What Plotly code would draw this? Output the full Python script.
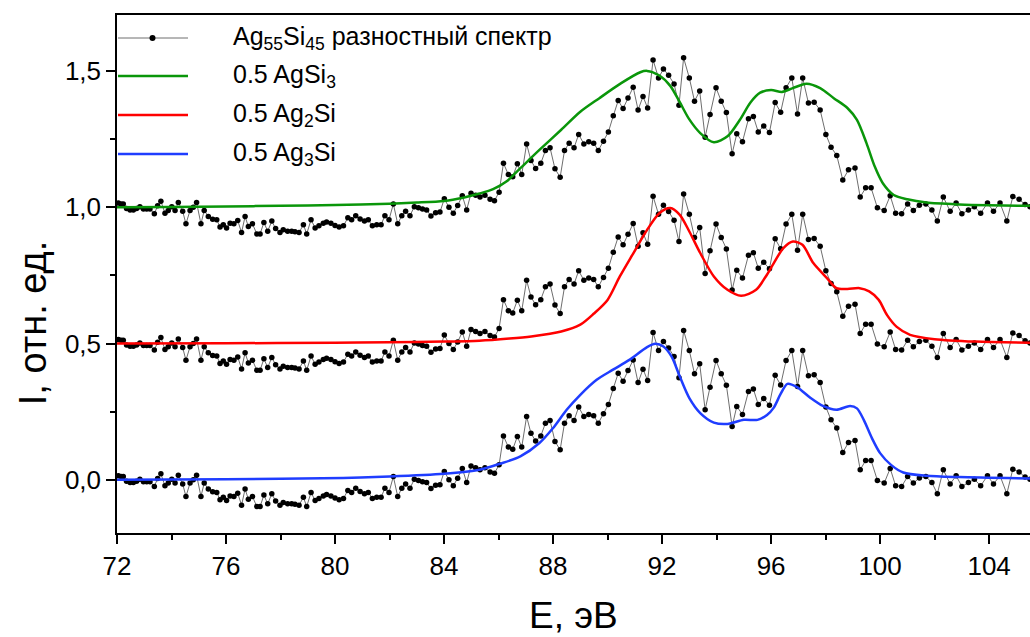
import plotly.graph_objects as go

# Experimental difference spectrum Ag55Si45 (eV, rel. units)
energy_exp = [
    72.05, 72.15, 72.23, 72.35, 72.48, 72.60, 72.72, 72.84, 72.97, 73.09,
    73.21, 73.37, 73.49, 73.61, 73.76, 73.88, 74.01, 74.13, 74.25, 74.41,
    74.53, 74.68, 74.80, 74.92, 75.08, 75.20, 75.35, 75.51, 75.66, 75.78,
    75.90, 76.02, 76.15, 76.29, 76.43, 76.57, 76.70, 76.82, 76.97, 77.13,
    77.25, 77.39, 77.53, 77.68, 77.82, 77.98, 78.10, 78.26, 78.41, 78.53,
    78.68, 78.84, 78.96, 79.12, 79.27, 79.41, 79.57, 79.69, 79.85, 80.00,
    80.15, 80.31, 80.47, 80.61, 80.76, 80.92, 81.08, 81.22, 81.37, 81.53,
    81.69, 81.83, 81.98, 82.14, 82.30, 82.45, 82.59, 82.75, 82.91, 83.06,
    83.21, 83.36, 83.52, 83.69, 83.85, 84.01, 84.18, 84.34, 84.50, 84.67,
    84.83, 84.99, 85.16, 85.32, 85.50, 85.69, 85.85, 86.02, 86.18, 86.36,
    86.52, 86.69, 86.85, 87.03, 87.19, 87.36, 87.55, 87.72, 87.89, 88.07,
    88.26, 88.42, 88.59, 88.77, 88.94, 89.13, 89.31, 89.49, 89.66, 89.85,
    90.03, 90.21, 90.39, 90.57, 90.75, 90.94, 91.12, 91.30, 91.47, 91.67,
    91.87, 92.05, 92.24, 92.44, 92.62, 92.79, 93.00, 93.19, 93.38, 93.58,
    93.76, 93.98, 94.17, 94.36, 94.57, 94.74, 94.95, 95.17, 95.35, 95.53,
    95.73, 95.94, 96.15, 96.35, 96.55, 96.76, 96.97, 97.16, 97.37, 97.58,
    97.80, 98.01, 98.20, 98.41, 98.63, 98.84, 99.08, 99.27, 99.47, 99.67,
    99.90, 100.15, 100.37, 100.57, 100.79, 101.01, 101.22, 101.44, 101.68, 101.90,
    102.10, 102.32, 102.57, 102.79, 103.00, 103.24, 103.46, 103.69, 103.94, 104.16,
    104.40, 104.65, 104.87, 105.10, 105.32, 105.50]
intensity_exp = [
    0.015, 0.012, 0.012, -0.005, -0.010, -0.010, -0.005, 0.002, -0.007, -0.007,
    -0.007, -0.024, 0.005, 0.022, -0.022, -0.012, 0.002, -0.012, 0.017, -0.015,
    -0.061, -0.012, 0.000, 0.017, -0.061, -0.012, -0.034, -0.044, -0.046, -0.073,
    -0.064, -0.076, -0.059, -0.061, -0.049, -0.093, -0.034, -0.071, -0.061, -0.098,
    -0.098, -0.056, -0.088, -0.051, -0.078, -0.093, -0.083, -0.088, -0.088, -0.090,
    -0.093, -0.064, -0.098, -0.046, -0.076, -0.068, -0.059, -0.054, -0.059, -0.067,
    -0.073, -0.068, -0.039, -0.046, -0.031, -0.043, -0.051, -0.046, -0.068, -0.064,
    -0.064, -0.031, -0.046, 0.012, -0.061, -0.031, -0.015, -0.031, 0.002, -0.002,
    -0.007, -0.010, -0.032, -0.020, -0.018, 0.031, 0.000, -0.022, 0.006, 0.042,
    -0.010, 0.051, 0.044, 0.037, 0.044, 0.029, 0.024, 0.055, 0.161, 0.120,
    0.112, 0.159, 0.120, 0.232, 0.171, 0.142, 0.161, 0.208, 0.218, 0.141,
    0.110, 0.208, 0.235, 0.218, 0.267, 0.232, 0.240, 0.235, 0.208, 0.242,
    0.276, 0.335, 0.391, 0.362, 0.401, 0.440, 0.357, 0.406, 0.364, 0.540,
    0.474, 0.507, 0.484, 0.452, 0.374, 0.548, 0.474, 0.389, 0.426, 0.257,
    0.340, 0.438, 0.389, 0.347, 0.196, 0.269, 0.240, 0.324, 0.333, 0.276,
    0.298, 0.274, 0.384, 0.348, 0.438, 0.474, 0.342, 0.474, 0.382, 0.385,
    0.357, 0.267, 0.220, 0.190, 0.100, 0.137, 0.144, 0.037, 0.071, 0.071,
    -0.002, -0.012, 0.042, -0.022, -0.024, 0.012, -0.012, 0.007, 0.012, -0.010,
    -0.051, 0.037, -0.015, 0.015, -0.024, -0.010, 0.002, -0.022, 0.015, -0.015,
    0.015, -0.051, 0.039, 0.029, 0.010, 0.002]

# 0.5 AgSi3
energy_agsi3 = [72.0, 74.0, 76.0, 78.0, 80.0, 82.0, 83.0, 84.0, 84.7, 85.3,
                85.8, 86.3, 86.8, 87.5, 88.3, 89.0, 89.7, 90.5, 91.2, 91.45,
                91.9, 92.3, 92.65, 93.0, 93.4, 93.9, 94.4, 94.85, 95.25, 95.6,
                96.0, 96.4, 96.8, 97.3, 97.8, 98.3, 98.8, 99.15, 99.5, 99.8,
                100.1, 100.5, 101.0, 101.7, 102.9, 104.0, 105.5]
intensity_agsi3 = [0.000, 0.001, 0.003, 0.005, 0.008, 0.013, 0.017, 0.023, 0.035, 0.050,
                   0.066, 0.095, 0.143, 0.210, 0.284, 0.350, 0.400, 0.455, 0.495, 0.500,
                   0.483, 0.445, 0.385, 0.322, 0.272, 0.238, 0.260, 0.320, 0.385, 0.420,
                   0.430, 0.423, 0.437, 0.453, 0.437, 0.400, 0.364, 0.320, 0.235, 0.150,
                   0.088, 0.045, 0.029, 0.017, 0.010, 0.007, 0.005]

# 0.5 Ag2Si
energy_ag2si = [72.0, 76.0, 80.0, 82.0, 84.0, 85.3, 86.4, 87.2, 88.3, 89.0,
                89.5, 90.0, 90.45, 90.95, 91.45, 91.9, 92.3, 92.65, 93.0, 93.4,
                93.9, 94.4, 94.9, 95.45, 95.8, 96.1, 96.45, 96.8, 97.15, 97.55,
                98.05, 98.4, 98.8, 99.25, 99.6, 99.95, 100.25, 100.6, 101.1, 102.0,
                103.5, 105.5]
intensity_ag2si = [0.000, 0.001, 0.003, 0.005, 0.007, 0.010, 0.018, 0.026, 0.044, 0.069,
                   0.110, 0.160, 0.246, 0.332, 0.417, 0.478, 0.497, 0.472, 0.411, 0.332,
                   0.246, 0.197, 0.175, 0.197, 0.245, 0.295, 0.350, 0.374, 0.362, 0.295,
                   0.240, 0.203, 0.200, 0.203, 0.191, 0.160, 0.105, 0.062, 0.032, 0.016,
                   0.007, 0.003]

# 0.5 Ag3Si
energy_ag3si = [72.0, 76.0, 80.3, 82.0, 84.0, 85.3, 86.05, 86.8, 87.5, 88.0,
                88.5, 89.0, 89.6, 90.2, 90.8, 91.45, 91.75, 92.05, 92.35, 92.65,
                93.0, 93.4, 93.9, 94.4, 95.0, 95.5, 95.85, 96.1, 96.35, 96.6,
                96.95, 97.45, 97.9, 98.4, 98.9, 99.15, 99.4, 99.7, 100.0, 100.4,
                100.85, 101.7, 102.9, 105.5]
intensity_ag3si = [0.000, 0.002, 0.007, 0.012, 0.022, 0.037, 0.059, 0.086, 0.135, 0.190,
                   0.257, 0.312, 0.367, 0.404, 0.440, 0.487, 0.499, 0.489, 0.452, 0.379,
                   0.300, 0.245, 0.210, 0.205, 0.220, 0.220, 0.238, 0.265, 0.315, 0.352,
                   0.340, 0.300, 0.271, 0.257, 0.271, 0.262, 0.220, 0.153, 0.098, 0.055,
                   0.027, 0.015, 0.010, 0.005]

# vertical offsets of the three stacked copies
offsets = [1.0, 0.5, 0.0]
exp_name = "Ag<sub>55</sub>Si<sub>45</sub> разностный спектр"
curve_names = ["0.5 AgSi<sub>3</sub>", "0.5 Ag<sub>2</sub>Si", "0.5 Ag<sub>3</sub>Si"]
curve_colors = ["#0a960a", "#ff0000", "#1f3dff"]
curve_x = [energy_agsi3, energy_ag2si, energy_ag3si]
curve_y = [intensity_agsi3, intensity_ag2si, intensity_ag3si]

FONT = "Liberation Sans, Arial, sans-serif"
DATA_LINE = "#6e6e6e"

fig = go.Figure()

for off in offsets:
    fig.add_trace(go.Scatter(
        x=energy_exp, y=[v + off for v in intensity_exp],
        mode="lines+markers",
        line=dict(color=DATA_LINE, width=1),
        marker=dict(color="black", size=5.5),
        name=exp_name, showlegend=False,
    ))

for xs, ys, off, nm, col in zip(curve_x, curve_y, offsets, curve_names, curve_colors):
    fig.add_trace(go.Scatter(
        x=xs, y=[v + off for v in ys],
        mode="lines", line=dict(color=col, width=2.5, shape="spline", smoothing=0.8),
        name=nm, showlegend=False,
    ))

# ---- manual legend (paper coordinates) ----
L, R, T, B = 117, 1030, 15, 533
def px(x):
    return (x - L) / (R - L)
def py(y):
    return (B - y) / (B - T)

legend_rows = [38, 76, 115, 154]
legend_texts = [exp_name] + curve_names
legend_colors = [DATA_LINE] + curve_colors
legend_widths = [1, 2.5, 2.5, 2.5]

shapes = []
annotations = []
for row, txt, col, w in zip(legend_rows, legend_texts, legend_colors, legend_widths):
    shapes.append(dict(type="line", xref="paper", yref="paper",
                       x0=px(118), x1=px(188), y0=py(row), y1=py(row),
                       line=dict(color=col, width=w)))
    annotations.append(dict(text=txt, xref="paper", yref="paper",
                            x=px(231), y=py(row), xanchor="left", yanchor="middle",
                            showarrow=False, font=dict(size=25, family=FONT, color="black")))
# dot on the experimental legend entry
shapes.append(dict(type="circle", xref="paper", yref="paper",
                   x0=px(149.5), x1=px(155.5), y0=py(41), y1=py(35),
                   fillcolor="black", line=dict(color="black", width=0)))

# axis titles
annotations.append(dict(text="I, отн. ед.", xref="paper", yref="paper",
                        x=-0.092, y=0.405, xanchor="center", yanchor="middle",
                        textangle=-90, showarrow=False,
                        font=dict(size=38, family=FONT, color="black")))
annotations.append(dict(text="E, эВ", xref="paper", yref="paper",
                        x=0.5, y=py(615), xanchor="center", yanchor="middle",
                        showarrow=False,
                        font=dict(size=37, family=FONT, color="black")))

fig.update_layout(
    width=1030, height=637,
    margin=dict(l=L, r=1030 - R, t=T, b=637 - B),
    paper_bgcolor="white", plot_bgcolor="white",
    separators=", ",
    font=dict(family=FONT, color="black"),
    showlegend=False,
    xaxis=dict(range=[72, 105.5], tickmode="linear", tick0=72, dtick=4,
               ticks="outside", ticklen=9, tickwidth=1.5, tickcolor="black",
               showline=True, linewidth=1.5, linecolor="black", mirror=True,
               showgrid=False, zeroline=False,
               tickfont=dict(size=26, family=FONT),
               minor=dict(ticks="outside", ticklen=5, tickwidth=1.5, dtick=2, tick0=72,
                          tickcolor="black", showgrid=False)),
    yaxis=dict(range=[-0.195, 1.705], tickmode="linear", tick0=0, dtick=0.5,
               tickformat=".1f",
               ticks="outside", ticklen=9, tickwidth=1.5, tickcolor="black",
               showline=True, linewidth=1.5, linecolor="black", mirror=False,
               showgrid=False, zeroline=False,
               tickfont=dict(size=26, family=FONT),
               minor=dict(ticks="outside", ticklen=5, tickwidth=1.5, dtick=0.25, tick0=0,
                          tickcolor="black", showgrid=False)),
    shapes=shapes,
    annotations=annotations,
)

fig.write_html("out.html")
